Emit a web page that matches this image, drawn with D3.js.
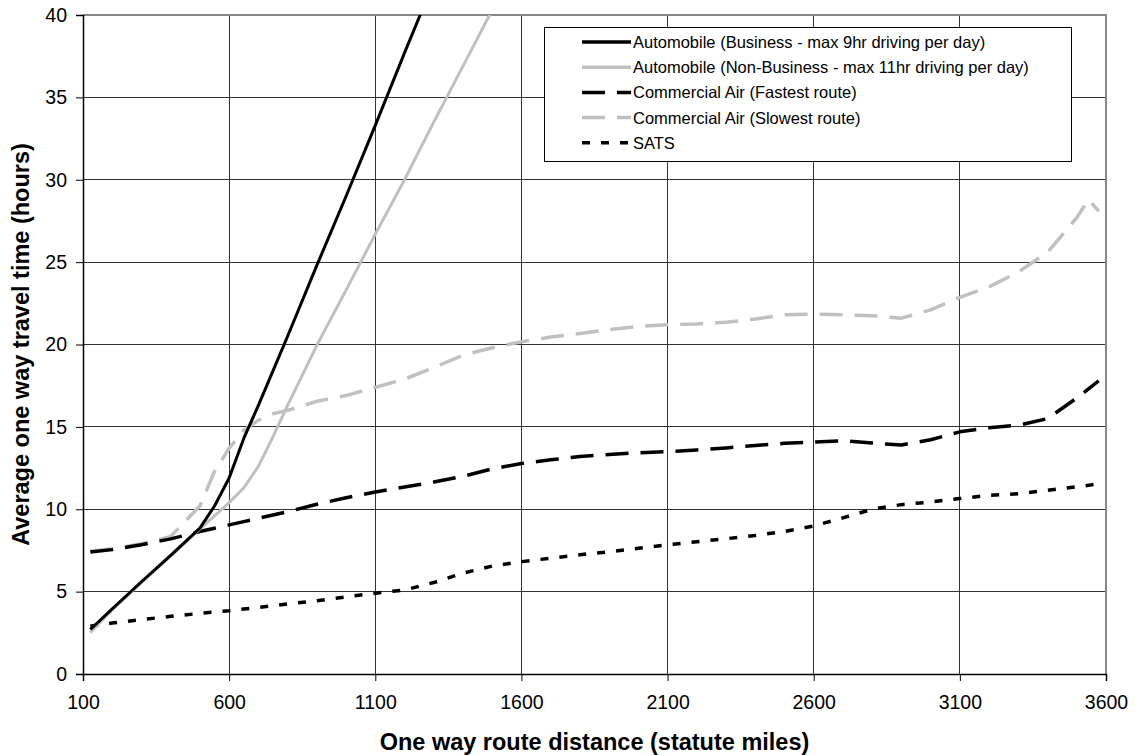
<!DOCTYPE html>
<html>
<head>
<meta charset="utf-8">
<script src="https://cdn.jsdelivr.net/npm/d3@7/dist/d3.min.js"></script>
<style>
body { margin: 0; background: #fff; }
text { font-family: "Liberation Sans", Arial, sans-serif; fill: #000; }
</style>
</head>
<body>
<script>
/* Data */

var miles = [125, 200, 300, 400, 500, 550, 600, 650, 700, 750, 800, 900, 1000, 1100, 1200, 1300,
	1400, 1500, 1600, 1700, 1800, 1900, 2000, 2100, 2200, 2300, 2400, 2500, 2600, 2700, 2800, 2900,
	3000, 3100, 3200, 3300, 3400, 3500, 3540, 3575];

var autoBusiness = [2.7, 3.95, 5.6, 7.2, 8.85, 10.2, 11.9, 14.3, 16.3, 18.4, 20.5, 24.8, 29.0, 33.3, 37.7, 42.0,
	null, null, null, null, null, null, null, null, null, null, null, null, null, null, null, null,
	null, null, null, null, null, null, null, null];

var autoNonBusiness = [2.5, 3.9, 5.55, 7.15, 8.8, 9.6, 10.4, 11.3, 12.6, 14.4, 16.3, 19.95, 23.3, 26.7, 30.0, 33.5,
	36.9, 40.3, 43.7, null, null, null, null, null, null, null, null, null, null, null, null, null,
	null, null, null, null, null, null, null, null];

var airFastest = [7.4, 7.55, 7.85, 8.2, 8.65, 8.85, 9.05, 9.25, 9.45, 9.65, 9.85, 10.3, 10.7, 11.05, 11.35, 11.65,
	12.0, 12.45, 12.78, 13.0, 13.2, 13.33, 13.43, 13.5, 13.6, 13.72, 13.87, 14.0, 14.08, 14.16, 14.02, 13.9,
	14.22, 14.7, 14.95, 15.1, 15.5, 16.75, 17.3, 17.8];

var airSlowest = [7.45, 7.6, 7.9, 8.35, 10.2, 12.3, 13.7, 14.8, 15.4, 15.8, 16.0, 16.55, 16.9, 17.4, 17.9, 18.6,
	19.35, 19.8, 20.17, 20.45, 20.67, 20.9, 21.1, 21.2, 21.25, 21.35, 21.55, 21.8, 21.84, 21.8, 21.75, 21.6,
	22.1, 22.86, 23.5, 24.4, 25.6, 27.7, 28.8, 28.1];

var sats = [2.9, 3.1, 3.3, 3.5, 3.68, 3.76, 3.84, 3.94, 4.04, 4.14, 4.25, 4.45, 4.68, 4.9, 5.1, 5.55,
	6.12, 6.55, 6.82, 7.03, 7.24, 7.42, 7.63, 7.84, 8.03, 8.21, 8.41, 8.65, 8.98, 9.48, 10.0, 10.28,
	10.44, 10.65, 10.84, 10.94, 11.15, 11.37, 11.45, 11.55];

var xTicks = [100, 600, 1100, 1600, 2100, 2600, 3100, 3600];
var yTicks = [0, 5, 10, 15, 20, 25, 30, 35, 40];

var seriesNames = [
	"Automobile (Business - max 9hr driving per day)",
	"Automobile (Non-Business - max 11hr driving per day)",
	"Commercial Air (Fastest route)",
	"Commercial Air (Slowest route)",
	"SATS"
];



/* Canvas */

var width = 1135;
var height = 755;
var margin = {top: 15, right: 29, bottom: 81, left: 83};
var plotW = width - margin.left - margin.right;
var plotH = height - margin.top - margin.bottom;

var svg = d3.select("body").append("svg")
	.attr("width", width)
	.attr("height", height);

var x = d3.scaleLinear().domain([100, 3600]).range([0, plotW]);
var y = d3.scaleLinear().domain([0, 40]).range([plotH, 0]);

var g = svg.append("g")
	.attr("transform", "translate(" + margin.left + "," + margin.top + ")");

// gridlines
g.append("g")
	.selectAll("line")
	.data(yTicks.slice(1))
	.enter().append("line")
		.attr("x1", 0).attr("x2", plotW)
		.attr("y1", function(d) { return y(d); })
		.attr("y2", function(d) { return y(d); })
		.attr("stroke", "#333")
		.attr("stroke-width", 1)
		.attr("shape-rendering", "crispEdges");

g.append("g")
	.selectAll("line")
	.data(xTicks.slice(1))
	.enter().append("line")
		.attr("y1", 0).attr("y2", plotH)
		.attr("x1", function(d) { return x(d); })
		.attr("x2", function(d) { return x(d); })
		.attr("stroke", "#333")
		.attr("stroke-width", 1)
		.attr("shape-rendering", "crispEdges");

// plot border (top, right)
g.append("path")
	.attr("d", "M0,0H" + plotW + "V" + plotH)
	.attr("fill", "none")
	.attr("stroke", "#888")
	.attr("stroke-width", 2);

// axes
var xAxis = g.append("g")
	.attr("transform", "translate(0," + plotH + ")")
	.call(d3.axisBottom(x).tickValues(xTicks).tickSize(7).tickPadding(14).tickFormat(d3.format("d")));

var yAxis = g.append("g")
	.call(d3.axisLeft(y).tickValues(yTicks).tickSize(7).tickPadding(9).tickFormat(d3.format("d")));

[xAxis, yAxis].forEach(function(ax) {
	ax.select(".domain").attr("stroke", "#000").attr("stroke-width", 1.5);
	ax.selectAll(".tick line").attr("stroke", "#000").attr("stroke-width", 1);
	ax.selectAll(".tick text")
		.attr("font-size", 19.5)
		.attr("font-family", "Liberation Sans, Arial, sans-serif")
		.attr("fill", "#000");
});

// axis titles
svg.append("text")
	.attr("x", margin.left + plotW / 2)
	.attr("y", 750)
	.attr("text-anchor", "middle")
	.attr("font-size", 23.5)
	.attr("font-weight", "bold")
	.text("One way route distance (statute miles)");

svg.append("text")
	.attr("transform", "translate(29," + (margin.top + plotH / 2) + ") rotate(-90)")
	.attr("text-anchor", "middle")
	.attr("font-size", 23.5)
	.attr("font-weight", "bold")
	.text("Average one way travel time (hours)");

// series lines
svg.append("clipPath")
	.attr("id", "plotClip")
	.append("rect")
		.attr("x", 0).attr("y", 0)
		.attr("width", plotW).attr("height", plotH);

var styles = [
	{values: autoBusiness, color: "#000", dash: null, w: 3},
	{values: autoNonBusiness, color: "#c0c0c0", dash: null, w: 3},
	{values: airFastest, color: "#000", dash: "23,12", w: 3.5},
	{values: airSlowest, color: "#c0c0c0", dash: "23,12", w: 3.5},
	{values: sats, color: "#000", dash: "8,11", w: 3.5}
];

var line = d3.line()
	.defined(function(d) { return d[1] != null; })
	.x(function(d) { return x(d[0]); })
	.y(function(d) { return y(d[1]); });

var lines = g.append("g").attr("clip-path", "url(#plotClip)");

// draw in reverse so the business line sits on top
for (let i = styles.length - 1; i >= 0; i--) {
	let s = styles[i];
	let pts = miles.map(function(m, k) { return [m, s.values[k]]; });
	lines.append("path")
		.attr("d", line(pts))
		.attr("fill", "none")
		.attr("stroke", s.color)
		.attr("stroke-width", s.w)
		.attr("stroke-dasharray", s.dash)
		.attr("stroke-linejoin", "round");
}

// legend
var legend = svg.append("g");

legend.append("rect")
	.attr("x", 544.5).attr("y", 27.5)
	.attr("width", 527).attr("height", 134)
	.attr("fill", "#fff")
	.attr("stroke", "#000")
	.attr("stroke-width", 1);

seriesNames.forEach(function(name, i) {
	let s = styles[i];
	let ly = 42 + i * 25.2;
	legend.append("line")
		.attr("x1", 582).attr("x2", 631)
		.attr("y1", ly).attr("y2", ly)
		.attr("stroke", s.color)
		.attr("stroke-width", 3.5)
		.attr("stroke-dasharray", s.dash);
	legend.append("text")
		.attr("x", 633)
		.attr("y", ly + 6)
		.attr("font-size", 16.5)
		.text(name);
});
</script>
</body>
</html>
